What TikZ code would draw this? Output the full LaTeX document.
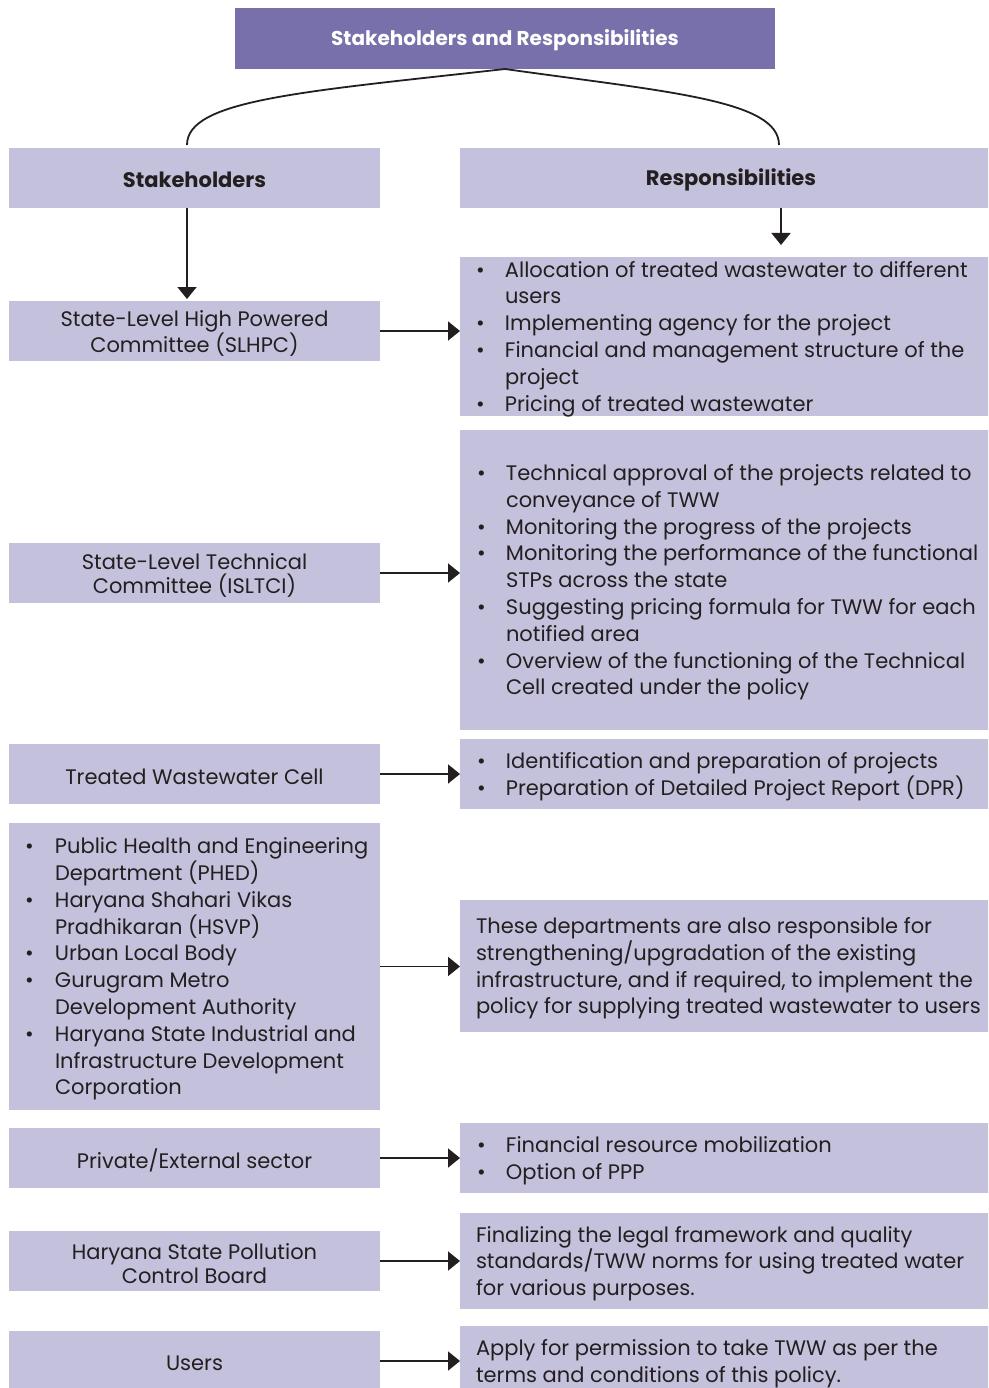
\documentclass[tikz,border=0pt]{standalone}
\usepackage{fontspec}
\setmainfont{Poppins}
\usetikzlibrary{arrows.meta}
\definecolor{titlec}{HTML}{7770AA}
\definecolor{boxc}{HTML}{C4C1DC}
\definecolor{ink}{HTML}{231F20}
\newcommand{\bul}{\makebox[29pt][l]{\textbullet}}
\newcommand{\ind}{\hspace*{29pt}}
\newcommand{\lbul}{\makebox[30pt][l]{\textbullet}}
\newcommand{\lind}{\hspace*{30pt}}
\begin{document}
\begin{tikzpicture}[x=1pt,y=-1pt,
  every node/.style={inner sep=0pt, outer sep=0pt, text=ink},
  card/.style 2 args={fill=boxc, draw=none, anchor=north west,
    minimum width=#1, minimum height=#2},
  body/.style={font=\fontsize{21}{26.8}\selectfont},
  ctext/.style={align=center, yshift=-2.5pt, font=\fontsize{21}{24}\selectfont},
  ltext/.style={anchor=west, align=left, yshift=-2.5pt, body},
  head/.style={yshift=-1.5pt, font=\fontsize{21}{24}\selectfont\bfseries},
  conn/.style={draw=ink, line width=1.8pt},
  arr/.style={conn, -{Triangle[length=12pt,width=19pt]}}
]
\useasboundingbox (0,0) rectangle (988,1388);
\clip (0,0) rectangle (988,1388);

% title and the two column headers
\node[fill=titlec, anchor=north west, minimum width=540, minimum height=61]
      (title) at (235,8) {};
\node[yshift=-1.5pt, text=white, font=\fontsize{20}{22}\selectfont\bfseries]
      (titlet) at (title.center) {Stakeholders and Responsibilities};
\node[card={371}{60}] (sh) at (9,148) {};
\node[head] (sht) at (sh.center) {Stakeholders};
\node[card={542}{60}] (rh) at (460,148) {};
\node[head] (rht) at (rh.center) {Responsibilities};

% stakeholder boxes
\node[card={371}{60}] (l1) at (9,301) {};
\node[ctext] (l1t) at (l1.center) {State-Level High Powered\\Committee (SLHPC)};
\node[card={371}{60}] (l2) at (9,543) {};
\node[ctext] (l2t) at (l2.center) {State-Level Technical\\Committee (ISLTCI)};
\node[card={371}{60}] (l3) at (9,744) {};
\node[ctext] (l3t) at (l3.center) {Treated Wastewater Cell};
\node[card={371}{287}] (l4) at (9,823) {};
\node[ltext] (l4t) at ([xshift=16pt]l4.west) {%
  \lbul Public Health and Engineering\\
  \lind Department (PHED)\\
  \lbul Haryana Shahari Vikas\\
  \lind Pradhikaran (HSVP)\\
  \lbul Urban Local Body\\
  \lbul Gurugram Metro\\
  \lind Development Authority\\
  \lbul Haryana State Industrial and\\
  \lind Infrastructure Development\\
  \lind Corporation};
\node[card={371}{60}] (l5) at (9,1128) {};
\node[ctext] (l5t) at (l5.center) {Private/External sector};
\node[card={371}{60}] (l6) at (9,1231) {};
\node[ctext] (l6t) at (l6.center) {Haryana State Pollution\\Control Board};
\node[card={371}{60}] (l7) at (9,1331) {};
\node[ctext] (l7t) at (l7.center) {Users};

% responsibility boxes
\node[card={560}{159}] (r1) at (460,257) {};
\node[ltext] (r1t) at ([xshift=16pt]r1.west) {%
  \bul Allocation of treated wastewater to different\\
  \ind users\\
  \bul Implementing agency for the project\\
  \bul Financial and management structure of the\\
  \ind project\\
  \bul Pricing of treated wastewater};
\node[card={560}{300}] (r2) at (460,430) {};
\node[ltext] (r2t) at ([xshift=17pt]r2.west) {%
  \bul Technical approval of the projects related to\\
  \ind conveyance of TWW\\
  \bul Monitoring the progress of the projects\\
  \bul Monitoring the performance of the functional\\
  \ind STPs across the state\\
  \bul Suggesting pricing formula for TWW for each\\
  \ind notified area\\
  \bul Overview of the functioning of the Technical\\
  \ind Cell created under the policy};
\node[card={560}{70}] (r3) at (460,739) {};
\node[ltext] (r3t) at ([xshift=17pt]r3.west) {%
  \bul Identification and preparation of projects\\
  \bul Preparation of Detailed Project Report (DPR)};
\node[card={560}{132}] (r4) at (460,900) {};
\node[ltext] (r4t) at ([xshift=16pt]r4.west) {%
  These departments are also responsible for\\
  strengthening/upgradation of the existing\\
  infrastructure, and if required, to implement the\\
  policy for supplying treated wastewater to users};
\node[card={560}{70}] (r5) at (460,1123) {};
\node[ltext] (r5t) at ([xshift=17pt]r5.west) {%
  \bul Financial resource mobilization\\
  \bul Option of PPP};
\node[card={560}{96}] (r6) at (460,1213) {};
\node[ltext] (r6t) at ([xshift=16pt]r6.west) {%
  Finalizing the legal framework and quality\\
  standards/TWW norms for using treated water\\
  for various purposes.};
\node[card={560}{70}] (r7) at (460,1326) {};
\node[ltext] (r7t) at ([xshift=16pt]r7.west) {%
  Apply for permission to take TWW as per the\\
  terms and conditions of this policy.};

% brace from the title to both columns
\coordinate (bl) at (187,145);
\coordinate (br) at (779,145);
\draw[conn] (title.south) .. controls (300,92) and (187,100) .. (bl);
\draw[conn] (title.south) .. controls (668,92) and (779,100) .. (br);

% downward arrows under the headers
\coordinate (rdrop) at (781,245);
\draw[arr, shorten >=2pt] ([xshift=-7.5pt]sh.south) -- ([xshift=-7.5pt]l1.north);
\draw[arr] ([xshift=50pt]rh.south) -- (rdrop);

% stakeholder to responsibility arrows
\foreach \a/\b in {l1/r1, l2/r2, l3/r3, l4/r4, l5/r5, l6/r6, l7/r7}
  \draw[arr] (\a.east) -- (\a.east -| \b.west);
\end{tikzpicture}
\end{document}
